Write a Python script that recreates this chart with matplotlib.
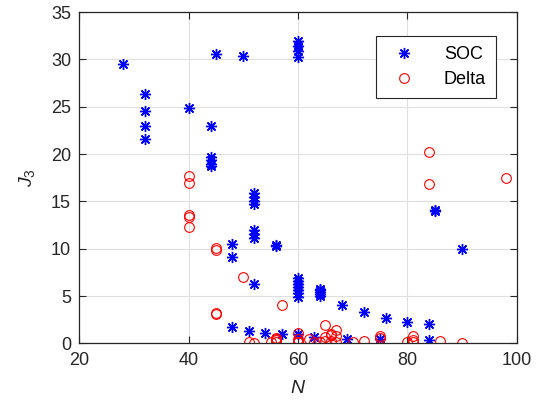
import matplotlib
matplotlib.use('Agg')
import matplotlib.pyplot as plt

plt.rcParams['font.family'] = ['Liberation Sans', 'DejaVu Sans']
plt.rcParams['mathtext.fontset'] = 'custom'
plt.rcParams['mathtext.it'] = 'Liberation Sans:italic'
plt.rcParams['mathtext.rm'] = 'Liberation Sans'

# SOC results (N, J3)
soc_n = [28, 32, 32, 32, 32, 40, 44, 44, 44, 44, 44, 45, 48, 48, 48, 50, 51,
         52, 52, 52, 52, 52, 52, 52, 52, 54, 56, 56, 57,
         60, 60, 60, 60, 60, 60, 60, 60, 60, 60, 60, 60, 63,
         64, 64, 64, 64, 64, 68, 69, 72, 75, 76, 80, 84, 84, 85, 85, 90]
soc_j3 = [29.5, 26.3, 24.6, 23.0, 21.6, 24.9, 23.0, 19.7, 19.4, 19.0, 18.7, 30.6, 10.5, 9.1, 1.7, 30.4, 1.3,
          15.9, 15.5, 15.1, 14.7, 12.0, 11.6, 11.1, 6.3, 1.1, 10.3, 10.4, 1.0,
          32.0, 31.4, 30.9, 30.3, 6.9, 6.6, 6.3, 6.0, 5.6, 5.3, 4.9, 1.0, 0.7,
          5.8, 5.6, 5.4, 5.2, 5.0, 4.1, 0.45, 3.35, 0.5, 2.7, 2.3, 2.05, 0.35, 14.0, 14.1, 10.0]

# Delta results (N, J3)
delta_n = [40, 40, 40, 40, 40, 45, 45, 45, 45, 50, 51, 52, 55, 56, 56, 56, 56, 57,
           60, 60, 60, 60, 62, 63, 64, 65, 65, 65, 66, 66, 66, 67, 67, 67,
           70, 72, 75, 75, 80, 81, 81, 81, 84, 84, 86, 90, 98]
delta_j3 = [17.7, 17.0, 13.6, 13.4, 12.3, 10.1, 9.9, 3.2, 3.1, 7.0, 0.1, 0.05, 0.1, 0.2, 0.4, 0.6, 0.5, 4.1,
            1.1, 0.5, 0.1, 0.2, 0.5, 0.2, 0.1, 1.9, 0.7, 0.3, 1.0, 0.9, 0.3, 1.4, 0.1, 0.8,
            0.1, 0.3, 0.8, 0.55, 0.1, 0.8, 0.35, 0.1, 20.2, 16.8, 0.3, 0.05, 17.5]

dark = '#262626'

fig = plt.figure(figsize=(5.4, 4.05), dpi=100)
ax = fig.add_axes([0.147, 0.152, 0.81, 0.818])

# matlab-style asterisk: plus and cross overlaid
ax.plot(soc_n, soc_j3, linestyle='none', marker=(8, 2, 0), color='#0000ff',
        markersize=8, markeredgewidth=1.0, label='SOC')
ax.plot(delta_n, delta_j3, linestyle='none', marker='o', markerfacecolor='none',
        markeredgecolor='#ff0000', markersize=7, markeredgewidth=0.8, label='Delta')

ax.set_xlim(20, 100)
ax.set_ylim(0, 35)
ax.set_xticks([20, 40, 60, 80, 100])
ax.set_yticks([0, 5, 10, 15, 20, 25, 30, 35])
ax.grid(True, color='#dfdfdf', linewidth=0.8)
ax.set_axisbelow(True)
ax.tick_params(direction='in', length=5, width=0.8, top=True, right=True,
               labelsize=13, colors=dark, pad=6)
for s in ax.spines.values():
    s.set_color(dark)
    s.set_linewidth(0.9)

ax.set_xlabel('$N$', fontsize=14, color=dark, labelpad=8)
ax.set_ylabel(r'$J_{\mathrm{3}}$', fontsize=14, color=dark, labelpad=10)

leg = ax.legend(loc='upper right', bbox_to_anchor=(0.952, 0.928), borderaxespad=0,
                fontsize=13, fancybox=False, framealpha=1, edgecolor=dark,
                handletextpad=1.2, borderpad=0.55, labelspacing=0.45)
leg.get_frame().set_linewidth(0.8)

fig.savefig('out.png', dpi=100)
